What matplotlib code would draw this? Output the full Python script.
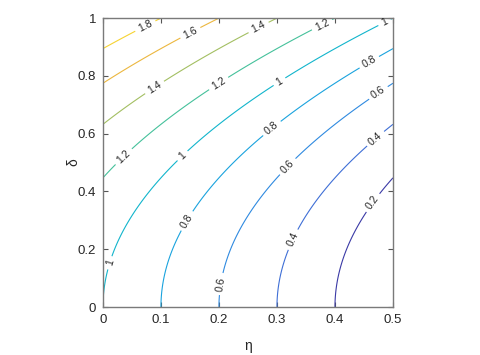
import numpy as np
import matplotlib
matplotlib.use("Agg")
import matplotlib.pyplot as plt

# ---- data ----
eta = np.linspace(0, 0.5, 201)          # x axis samples
delta = np.linspace(0, 1, 401)          # y axis samples
levels = [0.2, 0.4, 0.6, 0.8, 1.0, 1.2, 1.4, 1.6, 1.8]
xticks = [0, 0.1, 0.2, 0.3, 0.4, 0.5]
yticks = [0, 0.2, 0.4, 0.6, 0.8, 1]
xlabel = "η"
ylabel = "δ"
# label anchor points (data coords)
label_pts = [(0.074, 0.969), (0.15, 0.952), (0.269, 0.965), (0.378, 0.976),
             (0.486, 0.983), (0.0897, 0.758), (0.2, 0.772), (0.038, 0.516),
             (0.138, 0.522), (0.305, 0.778), (0.459, 0.848), (0.291, 0.619),
             (0.145, 0.298), (0.474, 0.744), (0.314, 0.495), (0.203, 0.080),
             (0.469, 0.585), (0.329, 0.232), (0.466, 0.36), (0.0138, 0.152)]

# field: f(eta, delta) = 1 - 2*eta + delta^2 (fits all level crossings)
E, D = np.meshgrid(eta, delta)
Z = 1 - 2 * E + D ** 2

# line colours per level (parula-like, as in the reference)
level_colors = ['#3b3aa6', '#3f6fd6', '#2f8ae0', '#1aa3de', '#12b5cc',
                '#45c19b', '#a3bf62', '#ecb73f', '#f6d332']

plt.rcParams['font.family'] = ['Liberation Sans', 'DejaVu Sans']

fig = plt.figure(figsize=(4.81, 3.55), dpi=100)
ax = fig.add_axes([0.214, 0.135, 0.603, 0.814])

cs = ax.contour(E, D, Z, levels=levels, colors=level_colors, linewidths=0.8)
ax.clabel(cs, fmt='%g', fontsize=7.5, colors='#262626', inline=True,
          inline_spacing=4, manual=label_pts)

ax.set_xlim(0, 0.5)
ax.set_ylim(0, 1)
ax.set_xticks(xticks)
ax.set_yticks(yticks)
ax.set_xticklabels(['%g' % t for t in xticks])
ax.set_yticklabels(['%g' % t for t in yticks])
ax.tick_params(direction='in', top=True, right=True, length=3.5, width=0.8,
               colors='#555555', labelcolor='#262626', labelsize=9.5, pad=5)
for s in ax.spines.values():
    s.set_color('#7a7a7a')
    s.set_linewidth(1.0)
ax.set_xlabel(xlabel, fontsize=10, color='#262626', labelpad=9)
ax.set_ylabel(ylabel, fontsize=10, color='#262626', labelpad=-2)

fig.savefig('out.png', dpi=100)
